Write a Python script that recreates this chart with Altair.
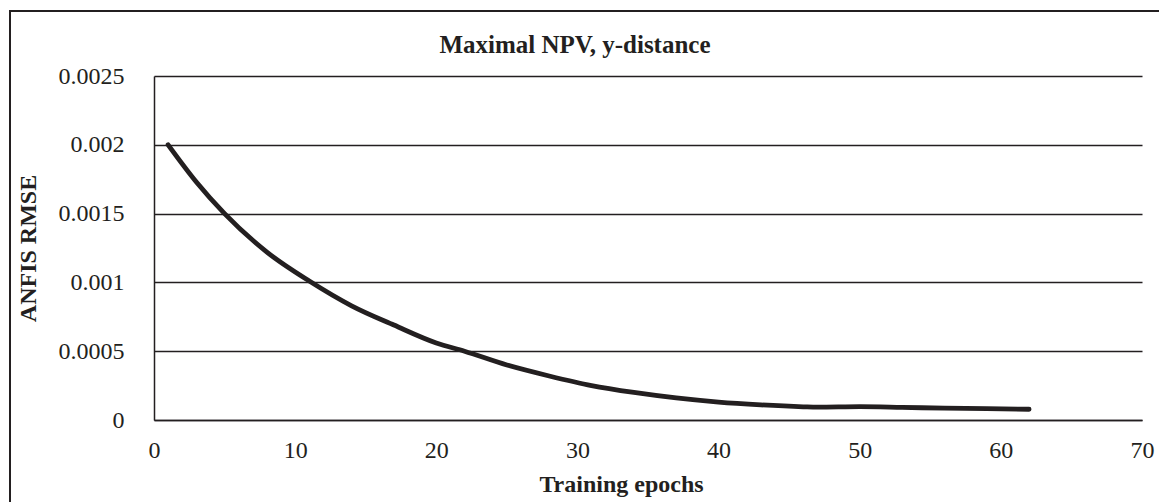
import altair as alt
import pandas as pd

# Training curve: ANFIS RMSE per training epoch
epochs = [1, 3, 5, 8, 11, 14, 17, 20, 22, 25, 28, 31, 34, 37, 40, 43, 46, 47, 50, 53, 56, 59, 62]
rmse = [0.00200, 0.00173, 0.00150, 0.00122, 0.00101, 0.00083, 0.00069, 0.00056, 0.00050,
        0.00040, 0.00032, 0.00025, 0.00020, 0.00016, 0.00013, 0.00011, 0.000096, 0.000093,
        0.000097, 0.000092, 0.000086, 0.000082, 0.000078]

x_ticks = [0, 10, 20, 30, 40, 50, 60, 70]
y_ticks = [0, 0.0005, 0.001, 0.0015, 0.002, 0.0025]
chart_title = "Maximal NPV, y-distance"

df = pd.DataFrame({"epoch": epochs, "rmse": rmse})

FONT = "Liberation Serif"
INK = "#231f20"

W, H = 988, 344
PAD_L, PAD_T, PAD_R, PAD_B = 154, 76, 17, 82

line = alt.Chart(df).mark_line(
    color=INK, strokeWidth=4.8, interpolate="monotone", strokeCap="round"
).encode(
    x=alt.X("epoch:Q",
            scale=alt.Scale(domain=[0, 70], nice=False),
            axis=alt.Axis(values=x_ticks, title="Training epochs", grid=False,
                          ticks=False, domainColor=INK, domainWidth=1.5,
                          labelFlush=False, labelPadding=18, titlePadding=10,
                          titleX=467)),
    y=alt.Y("rmse:Q",
            scale=alt.Scale(domain=[0, 0.0025], nice=False),
            axis=alt.Axis(values=y_ticks, format="~g", title="ANFIS RMSE",
                          grid=True, gridColor=INK, gridWidth=1.5, gridOpacity=1,
                          ticks=False, domainColor=INK, domainWidth=1.5,
                          labelFlush=False, labelPadding=30, titlePadding=18)),
)

# Outer frame around the whole figure
frame = alt.Chart(df).mark_rect(
    fill=None, stroke=INK, strokeWidth=2
).encode(
    x=alt.value(-PAD_L + 10), x2=alt.value(W + PAD_R + 20),
    y=alt.value(-PAD_T + 11), y2=alt.value(H + PAD_B + 20),
)

# Chart heading, placed in the top margin
heading = alt.Chart(pd.DataFrame({"t": [chart_title]})).mark_text(
    font=FONT, fontSize=25, fontWeight="bold", color=INK,
    align="center", baseline="middle",
).encode(
    text="t:N", x=alt.value(575 - PAD_L), y=alt.value(45 - PAD_T),
)

chart = alt.layer(frame, line, heading).properties(
    width=W, height=H,
    autosize=alt.AutoSizeParams(type="none"),
    padding={"left": PAD_L, "top": PAD_T, "right": PAD_R, "bottom": PAD_B},
    background="white",
).configure_view(
    stroke=None
).configure_axis(
    labelFont=FONT, labelFontSize=24, labelColor=INK, labelFontWeight="normal",
    titleFont=FONT, titleFontSize=24, titleFontWeight="bold", titleColor=INK,
)

chart.save("out.html", embed_options={"renderer": "svg", "actions": False})
